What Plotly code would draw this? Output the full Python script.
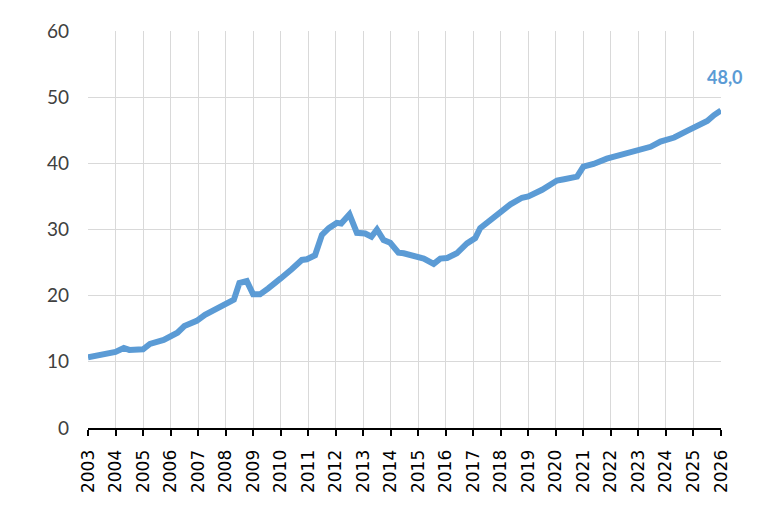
import plotly.graph_objects as go

years = [2003.0, 2003.5, 2004.0, 2004.3, 2004.5, 2005.0, 2005.25, 2005.75, 2006.0, 2006.25,
         2006.5, 2006.95, 2007.25, 2007.6, 2008.0, 2008.3, 2008.5, 2008.77, 2009.0, 2009.25,
         2009.55, 2009.75, 2010.0, 2010.4, 2010.77, 2010.95, 2011.25, 2011.5, 2011.75, 2012.04,
         2012.2, 2012.5, 2012.77, 2013.07, 2013.3, 2013.5, 2013.74, 2013.98, 2014.28, 2014.47,
         2014.95, 2015.2, 2015.56, 2015.8, 2016.05, 2016.4, 2016.77, 2017.07, 2017.25, 2017.5,
         2017.98, 2018.35, 2018.77, 2019.0, 2019.5, 2020.04, 2020.3, 2020.77, 2021.0, 2021.37,
         2021.85, 2022.4, 2022.95, 2023.44, 2023.8, 2024.3, 2024.77, 2025.0, 2025.5, 2025.75,
         2026.0]
values = [10.7, 11.1, 11.5, 12.1, 11.8, 11.9, 12.7, 13.3, 13.8, 14.4,
          15.4, 16.2, 17.1, 17.8, 18.6, 19.4, 21.9, 22.2, 20.2, 20.2,
          21.1, 21.7, 22.6, 24.0, 25.4, 25.5, 26.1, 29.2, 30.2, 31.0,
          30.9, 32.3, 29.5, 29.4, 28.9, 30.0, 28.4, 28.0, 26.5, 26.4,
          25.9, 25.6, 24.8, 25.6, 25.7, 26.4, 27.9, 28.7, 30.2, 31.0,
          32.8, 33.8, 34.8, 35.0, 36.0, 37.4, 37.6, 38.0, 39.5, 39.9,
          40.7, 41.3, 42.0, 42.5, 43.3, 43.9, 44.9, 45.3, 46.4, 47.3,
          48.0]
x_ticks = list(range(2003, 2027))
y_ticks = [0, 10, 20, 30, 40, 50, 60]
last_label = "48,0"

fig = go.Figure()
fig.add_trace(go.Scatter(x=years, y=values, mode="lines",
                         line=dict(color="#5B9BD5", width=6),
                         hoverinfo="skip"))

fig.add_annotation(x=years[-1], y=values[-1], text="<b>" + last_label + "</b>",
                   showarrow=False, xanchor="center", yanchor="middle",
                   xshift=4, yshift=33,
                   font=dict(family="Lato", size=18, color="#5B9BD5"))

fig.update_layout(
    width=768, height=509,
    margin=dict(l=88, r=47, t=31, b=81),
    paper_bgcolor="white", plot_bgcolor="white",
    showlegend=False,
    xaxis=dict(range=[2003, 2026], tickmode="array", tickvals=x_ticks,
               ticktext=[str(v) for v in x_ticks], tickangle=-90,
               showgrid=True, gridcolor="#d9d9d9", gridwidth=1,
               showline=True, linecolor="black", linewidth=2,
               ticks="outside", ticklen=6, tickcolor="black", tickwidth=2,
               ticklabelstandoff=7,
               tickfont=dict(family="DejaVu Sans", size=17, color="black"),
               zeroline=False),
    yaxis=dict(range=[0, 60], tickmode="array", tickvals=y_ticks,
               showgrid=True, gridcolor="#d9d9d9", gridwidth=1,
               showline=False, ticks="", zeroline=False,
               ticklabelstandoff=18,
               tickfont=dict(family="Lato", size=19, color="#404040")),
)

fig.write_html("out.html")
